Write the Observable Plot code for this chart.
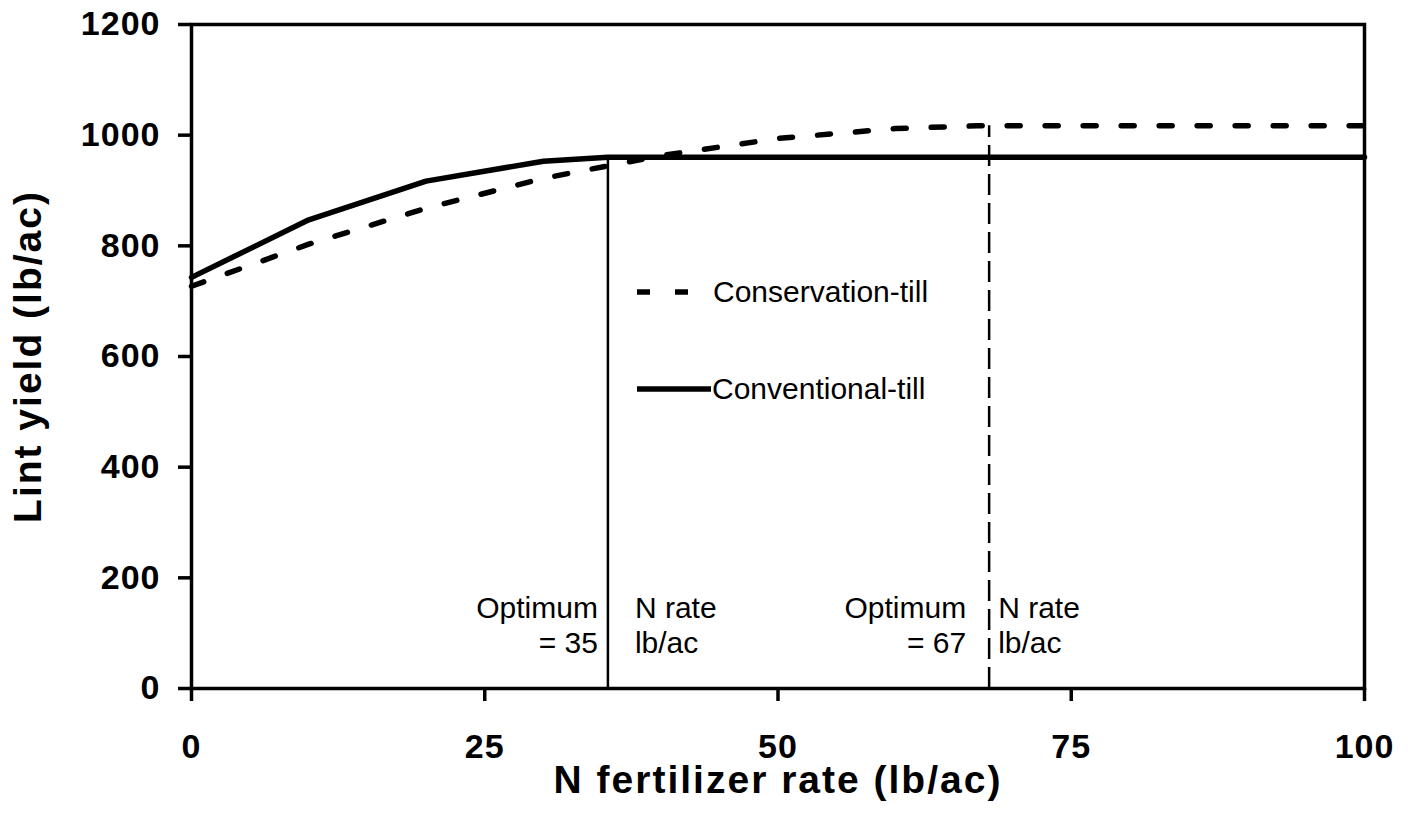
<!DOCTYPE html>
<html>
<head>
<meta charset="utf-8">
<script src="https://cdn.jsdelivr.net/npm/d3@7"></script>
<script src="https://cdn.jsdelivr.net/npm/@observablehq/plot@0.6"></script>
<style>
  body { margin: 0; background: #fff; }
  #wrap { position: relative; width: 1412px; height: 816px; font-family: "Liberation Sans", Arial, sans-serif; }
  #chart svg { font-family: "Liberation Sans", Arial, sans-serif; }
  #chart g[aria-label="x-axis tick label"] text,
  #chart g[aria-label="y-axis tick label"] text { letter-spacing: 1px; }
  #chart g[aria-label="x-axis label"] text,
  #chart g[aria-label="y-axis label"] text { font-size: 39px; letter-spacing: 2px; }
  .leg { position: absolute; left: 637px; height: 36px; display: flex; align-items: center; font-size: 30px; color: #000; white-space: nowrap; }
  .leg svg { display: block; }
</style>
</head>
<body>
<div id="wrap">
  <div id="chart"></div>
</div>
<script>
// ---- data ----
const conservationRate  = [0, 10, 20, 30, 40, 50, 60, 67, 70, 80, 90, 100];
const conservationYield = [727, 803, 868, 922, 963, 994, 1012, 1017, 1017, 1017, 1017, 1017];
const conventionalRate  = [0, 10, 20, 30, 35.5, 100];
const conventionalYield = [743, 847, 917, 953, 960, 960];

const optimumRates  = [35.5, 68];
const optimumYields = [960, 1017];
const optimumLabels = ["Optimum\n= 35", "Optimum\n= 67"];
const optimumUnits  = ["N rate\nlb/ac", "N rate\nlb/ac"];

const seriesNames = ["Conservation-till", "Conventional-till"];
const xTicks = [0, 25, 50, 75, 100];
const yTicks = [0, 200, 400, 600, 800, 1000, 1200];
const xTitle = "N fertilizer rate (lb/ac)";
const yTitle = "Lint yield (lb/ac)";

// ---- tables ----
const conservation = conservationRate.map((x, i) => ({x, y: conservationYield[i]}));
const conventional = conventionalRate.map((x, i) => ({x, y: conventionalYield[i]}));
const optima = optimumRates.map((x, i) => ({x, y: optimumYields[i], left: optimumLabels[i], right: optimumUnits[i]}));

const styleOpt = [
  {dash: null, dxLeft: -10, dxRight: 27},
  {dash: "21,8", dxLeft: -23, dxRight: 9}
];

const marks = [
  Plot.axisX({ticks: xTicks, tickFormat: d => String(d), tickSize: 13, tickPadding: 32, strokeWidth: 3.5, fontSize: 34, fontWeight: "bold",
    label: xTitle, labelAnchor: "center", labelOffset: 104, labelArrow: "none"}),
  Plot.axisY({ticks: yTicks, tickFormat: d => String(d), tickSize: 13, tickPadding: 18, strokeWidth: 3.5, fontSize: 34, fontWeight: "bold",
    label: yTitle, labelAnchor: "center", labelOffset: 178, labelArrow: "none"}),
];
optima.forEach((d, i) => {
  const s = styleOpt[i];
  marks.push(Plot.ruleX([d], {x: "x", y1: 0, y2: "y", stroke: "#000", strokeWidth: 2.5, strokeDasharray: s.dash}));
  marks.push(Plot.text([d], {x: "x", text: "left", frameAnchor: "bottom", dy: -64, dx: s.dxLeft,
    textAnchor: "end", lineAnchor: "middle", lineHeight: 1.17, fontSize: 30, fill: "#000"}));
  marks.push(Plot.text([d], {x: "x", text: "right", frameAnchor: "bottom", dy: -64, dx: s.dxRight,
    textAnchor: "start", lineAnchor: "middle", lineHeight: 1.17, fontSize: 30, fill: "#000"}));
});
marks.push(
  Plot.line(conservation, {x: "x", y: "y", stroke: "#000", strokeWidth: 5.5, strokeDasharray: "13,25"}),
  Plot.line(conventional, {x: "x", y: "y", stroke: "#000", strokeWidth: 5.5}),
  Plot.frame({stroke: "#000", strokeWidth: 3.5})
);

const chart = Plot.plot({
  width: 1412,
  height: 816,
  marginLeft: 191,
  marginRight: 48,
  marginTop: 24,
  marginBottom: 128,
  x: {domain: [0, 100]},
  y: {domain: [0, 1200]},
  style: {fontFamily: "Liberation Sans, Arial, sans-serif", color: "#000", background: "#fff"},
  marks
});
document.getElementById("chart").appendChild(chart);

// ---- legend ----
const wrap = document.getElementById("wrap");
const legendTops = [274, 371];
seriesNames.forEach((name, i) => {
  const item = document.createElement("div");
  item.className = "leg";
  item.style.top = legendTops[i] + "px";
  const dash = i === 0 ? 'stroke-dasharray="13,25"' : "";
  const len = i === 0 ? 51 : 74;
  item.innerHTML = `<svg width="75" height="36"><line x1="0" y1="18" x2="${len}" y2="18" stroke="#000" stroke-width="5.5" ${dash}/></svg><span style="margin-left:${i === 0 ? 1 : 0}px">${name}</span>`;
  wrap.appendChild(item);
});
</script>
</body>
</html>
